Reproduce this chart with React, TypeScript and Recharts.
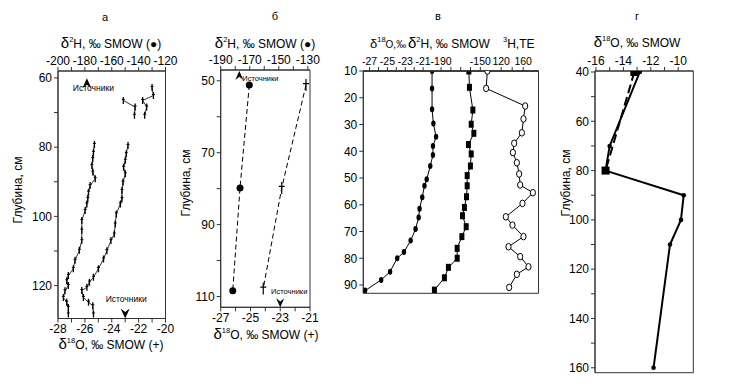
import React from 'react';
import { ScatterChart, Scatter, XAxis, YAxis, ReferenceArea } from 'recharts';

const W = 730;
const H = 389;
const FONT = '"Liberation Sans", Arial, sans-serif';
const INK = '#000';
const AXIS = '#333';

// --- panel а: two profiles, upper fragment and main column
const aDepthH1 = [66.5, 68.4, 70.8];
const aH1 = [-151.4, -142.6, -143.1];
const aDepthO1 = [62.8, 65.1, 66.5, 68.4, 70.8];
const aO1 = [-21.0, -20.9, -21.7, -21.4, -21.55];
const aDepthH = [79.2, 81.5, 83.3, 85.3, 87.2, 89.1, 91.1, 93.0, 94.8, 96.4, 98.3, 101.2, 104.0, 107.0, 109.8, 112.7, 115.1, 117.1, 118.6, 120.0, 121.5, 123.4, 124.8, 126.3, 128.2];
const aH = [-172.9, -173.6, -174.1, -174.8, -174.1, -172.3, -176.1, -177.3, -177.8, -178.5, -179.8, -182.3, -182.3, -182.3, -184.1, -187.3, -188.6, -192.3, -193.5, -192.3, -194.8, -196.0, -193.5, -192.3, -192.3];
const aDepthO = [79.5, 81.9, 83.8, 85.8, 87.7, 90.1, 92.5, 94.9, 96.4, 99.3, 102.2, 105.1, 107.0, 109.9, 112.3, 115.1, 117.6, 119.0, 120.5, 121.4, 123.4, 124.8, 125.8, 128.2];
const aO = [-22.79, -22.92, -22.99, -23.12, -22.99, -23.16, -23.24, -23.24, -23.36, -23.66, -23.74, -23.81, -24.06, -24.36, -24.61, -24.99, -25.36, -25.66, -25.85, -26.23, -26.11, -25.73, -25.41, -25.36];
const aSourceH = -178.5;
const aSourceO = -23;

// --- panel б
const bDepthH = [51.2, 79.8, 108.4];
const bH = [-170.3, -176.7, -181.7];
const bDepthO = [51.2, 79.8, 107.8];
const bO = [-21.27, -22.9, -24.14];
const bSourceH = -177.2;
const bSourceO = -23;

// --- panel в
const cDepthO = [10, 16.5, 24.3, 29.6, 34.6, 38, 41.4, 45.5, 50.5, 52.9, 57.2, 61.5, 64.8, 69.1, 73.4, 77.7, 80.0, 85.0, 88.1, 92.1];
const cO = [-20.0, -20.0, -20.0, -19.85, -19.55, -19.9, -19.9, -20.2, -20.6, -20.85, -21.1, -21.4, -21.5, -21.85, -22.4, -23.15, -23.9, -24.7, -25.7, -27.5];
const cDepthH = [10, 16.1, 24.6, 29.9, 33.3, 37.5, 41, 45.5, 49.1, 52.9, 57.0, 61.0, 64.1, 68.2, 71.9, 76.3, 80.0, 83.4, 87.3, 91.9];
const cH = [-161.7, -161.1, -157.6, -159.3, -156.6, -162.1, -159.3, -160.1, -163.4, -163.4, -164.1, -166.2, -168.2, -164.4, -168.8, -173.6, -173.6, -182.5, -186.6, -196.8];
const cDepthT = [10, 16.5, 23.1, 27.9, 33.1, 37.0, 40.5, 44.3, 48.5, 52.6, 55.5, 59.5, 64.5, 67.6, 71.9, 75.7, 79.4, 83.2, 86.0, 90.9];
const cT = [95, 92.7, 163.6, 160.5, 157.6, 143.6, 141.3, 148.5, 152.7, 154.5, 177.6, 158.7, 128.5, 140.5, 160.5, 133.3, 154.5, 169.6, 148.5, 134.5];

// --- panel г
const dDepthSolid = [40, 70, 80, 90, 100, 110, 160];
const dSolid = [-12.8, -15.0, -15.3, -9.6, -9.8, -10.6, -11.8];
const dDepthDash = [40, 80];
const dDash = [-13.2, -15.3];

// ticks
const aYTicks = [60, 70, 80, 90, 100, 110, 120];
const aHTicks = [-200, -190, -180, -170, -160, -150, -140, -130, -120];
const aOTicks = [-28, -27, -26, -25, -24, -23, -22, -21, -20];
const bYTicks = [50, 60, 70, 80, 90, 100, 110];
const bHTicks = [-190, -180, -170, -160, -150, -140, -130];
const bOTicks = [-27, -26, -25, -24, -23, -22, -21];
const cYTicks = [10, 20, 30, 40, 50, 60, 70, 80, 90];
const cOTicks = [-27, -26, -25, -24, -23, -22, -21];
const cHTicks = [-190, -180, -170, -160, -150];
const cTTicks = [120, 140, 160];
const dYTicks = [40, 50, 60, 70, 80, 90, 100, 110, 120, 130, 140, 150, 160];
const dXTicks = [-16, -15, -14, -13, -12, -11, -10];

const pts = (vals: number[], depths: number[]) => vals.map((x, i) => ({ x, y: depths[i] }));

type Rect = { l: number; t: number; r: number; b: number };
const rA: Rect = { l: 58, t: 71, r: 165.5, b: 318.5 };
const rB: Rect = { l: 220.7, t: 70, r: 310, b: 307.3 };
const rC: Rect = { l: 363.3, t: 71, r: 538.5, b: 293.3 };
const rD: Rect = { l: 595, t: 71, r: 693.3, b: 372.7 };

const every = (step: number, base = 0) => (v: number) =>
  Math.abs(((v - base) % step + step) % step) < 1e-6 ? String(v) : '';

const tick = { fontSize: 12, fill: INK, fontFamily: FONT };
const axisCommon = {
  tickSize: 4,
  tickMargin: 2,
  interval: 0 as const,
  allowDataOverflow: true,
  axisLine: { stroke: AXIS },
  tickLine: { stroke: AXIS },
  tick,
};

function Layer({ rect, yw, th, bh, children }: { rect: Rect; yw: number; th: number; bh: number; children: React.ReactNode }) {
  const margin = { left: rect.l - yw, top: rect.t - th, right: W - rect.r, bottom: H - rect.b - bh };
  return (
    <div style={{ position: 'absolute', left: 0, top: 0 }}>
      <ScatterChart width={W} height={H} margin={margin}>
        {children}
      </ScatterChart>
    </div>
  );
}

const Tick = ({ cx, cy }: any) => (
  <g>
    <line x1={cx} y1={cy - 3.5} x2={cx} y2={cy + 3.5} stroke={INK} strokeWidth={1.3} />
    <line x1={cx - 1.5} y1={cy - 1} x2={cx + 1.5} y2={cy - 1} stroke={INK} strokeWidth={1} />
  </g>
);
const Dot = ({ cx, cy, r = 3.5 }: any) => <circle cx={cx} cy={cy} r={r} fill={INK} />;
const Cross = ({ cx, cy }: any) => (
  <g>
    <line x1={cx} y1={cy - 6} x2={cx} y2={cy + 6} stroke={INK} strokeWidth={1.2} />
    <line x1={cx - 3} y1={cy - 1.5} x2={cx + 3} y2={cy - 1.5} stroke={INK} strokeWidth={1.2} />
  </g>
);
const SmallOval = ({ cx, cy }: any) => <ellipse cx={cx} cy={cy} rx={2.2} ry={3} fill={INK} />;
const Square = ({ cx, cy, w = 5, h = 7 }: any) => <rect x={cx - w / 2} y={cy - h / 2} width={w} height={h} fill={INK} />;
const OpenOval = ({ cx, cy }: any) => <ellipse cx={cx} cy={cy} rx={2.6} ry={3.3} fill="#fff" stroke={INK} strokeWidth={1} />;

const Arrow = ({ cx, cy, up, size, label, dx, dy, fs, anchor }: any) => {
  const s = up ? 1 : -1;
  const d = `M${cx},${cy} L${cx + size * 0.45},${cy + s * size} L${cx},${cy + s * size * 0.65} L${cx - size * 0.45},${cy + s * size} Z`;
  return (
    <g>
      <path d={d} fill={INK} />
      <text x={cx + dx} y={cy + dy} fontSize={fs} textAnchor={anchor} fontFamily={FONT} fill={INK}>
        {label}
      </text>
    </g>
  );
};

const Border = ({ xId, x, y }: { xId: string; x: [number, number]; y: [number, number] }) => (
  <ReferenceArea xAxisId={xId} x1={x[0]} x2={x[1]} y1={y[0]} y2={y[1]} fill="none" stroke={AXIS} strokeWidth={1} ifOverflow="visible" />
);

const solid = { stroke: INK, strokeWidth: 1 };
const thin = { stroke: INK, strokeWidth: 0.8 };

function PanelA() {
  const yDom: [number, number] = [58, 129.5];
  return (
    <Layer rect={rA} yw={30} th={22} bh={22}>
      <YAxis type="number" dataKey="y" domain={yDom} reversed ticks={aYTicks} tickFormatter={every(20)} width={30} {...axisCommon} />
      <XAxis xAxisId="h" type="number" dataKey="x" orientation="top" height={22} domain={[-200, -120]} ticks={aHTicks} tickFormatter={every(20)} {...axisCommon} />
      <XAxis xAxisId="o" type="number" dataKey="x" orientation="bottom" height={22} domain={[-28, -20]} ticks={aOTicks} tickFormatter={every(2)} {...axisCommon} />
      <Border xId="h" x={[-200, -120]} y={yDom} />
      <Scatter xAxisId="h" data={pts(aH1, aDepthH1)} fill={INK} line={thin} lineType="joint" shape={(p: any) => <Tick {...p} />} isAnimationActive={false} />
      <Scatter xAxisId="o" data={pts(aO1, aDepthO1)} fill={INK} line={thin} lineType="joint" shape={(p: any) => <Tick {...p} />} isAnimationActive={false} />
      <Scatter xAxisId="h" data={pts(aH, aDepthH)} fill={INK} line={thin} lineType="joint" shape={(p: any) => <Tick {...p} />} isAnimationActive={false} />
      <Scatter xAxisId="o" data={pts(aO, aDepthO)} fill={INK} line={thin} lineType="joint" shape={(p: any) => <Tick {...p} />} isAnimationActive={false} />
      <Scatter xAxisId="h" data={[{ x: aSourceH, y: 60.1 }]} fill={INK} isAnimationActive={false}
        shape={(p: any) => <Arrow cx={p.cx} cy={p.cy} up size={10} label="Источники" dx={6.5} dy={13} fs={8.5} anchor="middle" />} />
      <Scatter xAxisId="o" data={[{ x: aSourceO, y: 129.5 }]} fill={INK} isAnimationActive={false}
        shape={(p: any) => <Arrow cx={p.cx} cy={p.cy} up={false} size={10} label="Источники" dx={1} dy={-17} fs={8.5} anchor="middle" />} />
    </Layer>
  );
}

function PanelB() {
  const yDom: [number, number] = [47, 113];
  const dash = { stroke: INK, strokeWidth: 1, strokeDasharray: '5 3' };
  return (
    <Layer rect={rB} yw={30} th={22} bh={22}>
      <YAxis type="number" dataKey="y" domain={yDom} reversed ticks={bYTicks} tickFormatter={every(20, 50)} width={30} {...axisCommon} />
      <XAxis xAxisId="h" type="number" dataKey="x" orientation="top" height={22} domain={[-190, -128.5]} ticks={bHTicks} tickFormatter={every(20, -190)} {...axisCommon} />
      <XAxis xAxisId="o" type="number" dataKey="x" orientation="bottom" height={22} domain={[-27, -21]} ticks={bOTicks} tickFormatter={every(2, -27)} {...axisCommon} />
      <Border xId="o" x={[-27, -21]} y={yDom} />
      <Scatter xAxisId="h" data={pts(bH, bDepthH)} fill={INK} line={dash} lineType="joint" shape={(p: any) => <Dot {...p} />} isAnimationActive={false} />
      <Scatter xAxisId="o" data={pts(bO, bDepthO)} fill={INK} line={dash} lineType="joint" shape={(p: any) => <Cross {...p} />} isAnimationActive={false} />
      <Scatter xAxisId="h" data={[{ x: bSourceH, y: 47 }]} fill={INK} isAnimationActive={false}
        shape={(p: any) => <Arrow cx={p.cx} cy={p.cy + 1} up size={9} label="Источники" dx={3} dy={10} fs={7.5} anchor="start" />} />
      <Scatter xAxisId="o" data={[{ x: bSourceO, y: 113 }]} fill={INK} isAnimationActive={false}
        shape={(p: any) => <Arrow cx={p.cx} cy={p.cy} up={false} size={9} label="Источники" dx={9} dy={-13} fs={7.5} anchor="middle" />} />
    </Layer>
  );
}

function PanelC() {
  const yDom: [number, number] = [10, 93.1];
  const ctick = { ...axisCommon, tick: { ...tick, fontSize: 10.5 } };
  return (
    <>
      <Layer rect={rC} yw={30} th={20} bh={0}>
        <YAxis type="number" dataKey="y" domain={yDom} reversed ticks={cYTicks} width={30} {...axisCommon} />
        <XAxis xAxisId="o" type="number" dataKey="x" orientation="top" height={20} domain={[-27.7, -8.08]} ticks={cOTicks} tickFormatter={every(2, -27)} {...ctick} />
        <Border xId="o" x={[-27.7, -8.08]} y={yDom} />
        <Scatter xAxisId="o" data={pts(cO, cDepthO)} fill={INK} line={solid} lineType="joint" shape={(p: any) => <SmallOval {...p} />} isAnimationActive={false} />
      </Layer>
      <Layer rect={rC} yw={0} th={20} bh={0}>
        <YAxis type="number" dataKey="y" domain={yDom} reversed hide allowDataOverflow />
        <XAxis xAxisId="h" type="number" dataKey="x" orientation="top" height={20} domain={[-269.3, -90.7]} ticks={cHTicks} tickFormatter={every(40, -190)} {...ctick} />
        <Scatter xAxisId="h" data={pts(cH, cDepthH)} fill={INK} line={solid} lineType="joint" shape={(p: any) => <Square {...p} />} isAnimationActive={false} />
      </Layer>
      <Layer rect={rC} yw={0} th={20} bh={0}>
        <YAxis type="number" dataKey="y" domain={yDom} reversed hide allowDataOverflow />
        <XAxis xAxisId="t" type="number" dataKey="x" orientation="top" height={20} domain={[-130.4, 187.8]} ticks={cTTicks} tickFormatter={every(40, 120)} {...ctick} />
        <Scatter xAxisId="t" data={pts(cT, cDepthT)} fill={INK} line={solid} lineType="joint" shape={(p: any) => <OpenOval {...p} />} isAnimationActive={false} />
      </Layer>
    </>
  );
}

function PanelD() {
  const yDom: [number, number] = [39.6, 162];
  const xDom: [number, number] = [-16.07, -8.9];
  return (
    <Layer rect={rD} yw={34} th={22} bh={0}>
      <YAxis type="number" dataKey="y" domain={yDom} reversed ticks={dYTicks} tickFormatter={every(20)} width={34} {...axisCommon} />
      <XAxis xAxisId="x" type="number" dataKey="x" orientation="top" height={22} domain={xDom} ticks={dXTicks} tickFormatter={every(2)} {...axisCommon} />
      <Border xId="x" x={xDom} y={yDom} />
      <Scatter xAxisId="x" data={pts(dDash, dDepthDash)} fill={INK} line={{ stroke: INK, strokeWidth: 2, strokeDasharray: '9 4' }} lineType="joint"
        shape={(p: any) => <Square cx={p.cx} cy={p.cy} w={8} h={8} />} isAnimationActive={false} />
      <Scatter xAxisId="x" data={pts(dSolid, dDepthSolid)} fill={INK} line={{ stroke: INK, strokeWidth: 2 }} lineType="joint"
        shape={(p: any) => <Dot cx={p.cx} cy={p.cy} r={2.3} />} isAnimationActive={false} />
    </Layer>
  );
}

const Iso = ({ x, y, sup, rest, anchor = 'middle', fs = 12, dfs = 15 }: { x: number; y: number; sup: string; rest: string; anchor?: string; fs?: number; dfs?: number }) => (
  <text x={x} y={y} textAnchor={anchor as any} fontFamily={FONT} fill={INK} fontSize={fs}>
    <tspan fontSize={dfs}>δ</tspan>
    <tspan fontSize={7.5} dy={-6}>{sup}</tspan>
    <tspan dy={6}>{rest}</tspan>
  </text>
);

function Titles() {
  const depth = 'Глубина, см';
  return (
    <svg width={W} height={H} style={{ position: 'absolute', left: 0, top: 0, pointerEvents: 'none' }}>
      <g fontFamily={FONT} fill={INK} fontSize={11} textAnchor="middle">
        <text x={105} y={21}>а</text>
        <text x={275} y={20}>б</text>
        <text x={438} y={20}>в</text>
        <text x={637} y={20}>г</text>
      </g>
      <Iso x={111} y={48} sup="2" rest="H, ‰ SMOW (●)" />
      <Iso x={111} y={349} sup="18" rest="O, ‰ SMOW (+)" />
      <Iso x={265} y={48} sup="2" rest="H, ‰ SMOW (●)" />
      <Iso x={266} y={339} sup="18" rest="O, ‰ SMOW (+)" />
      <Iso x={370} y={48} sup="18" rest="O,‰" anchor="start" fs={10} dfs={13} />
      <Iso x={408} y={48} sup="2" rest="H, ‰ SMOW" anchor="start" fs={12} dfs={15} />
      <text x={503} y={48} fontFamily={FONT} fontSize={12} fill={INK}>
        <tspan fontSize={7.5} dy={-6}>3</tspan>
        <tspan dy={6}>H,TE</tspan>
      </text>
      <Iso x={637} y={47} sup="18" rest="O, ‰ SMOW" />
      <g fontFamily={FONT} fill={INK} fontSize={12} textAnchor="middle">
        <text transform="translate(22,190) rotate(-90)">{depth}</text>
        <text transform="translate(190,183) rotate(-90)">{depth}</text>
        <text transform="translate(570,183) rotate(-90)">{depth}</text>
      </g>
    </svg>
  );
}

export default function App() {
  return (
    <div style={{ position: 'absolute', left: 0, top: 0, width: W, height: H, background: '#fff', fontFamily: FONT }}>
      <PanelA />
      <PanelB />
      <PanelC />
      <PanelD />
      <Titles />
    </div>
  );
}
